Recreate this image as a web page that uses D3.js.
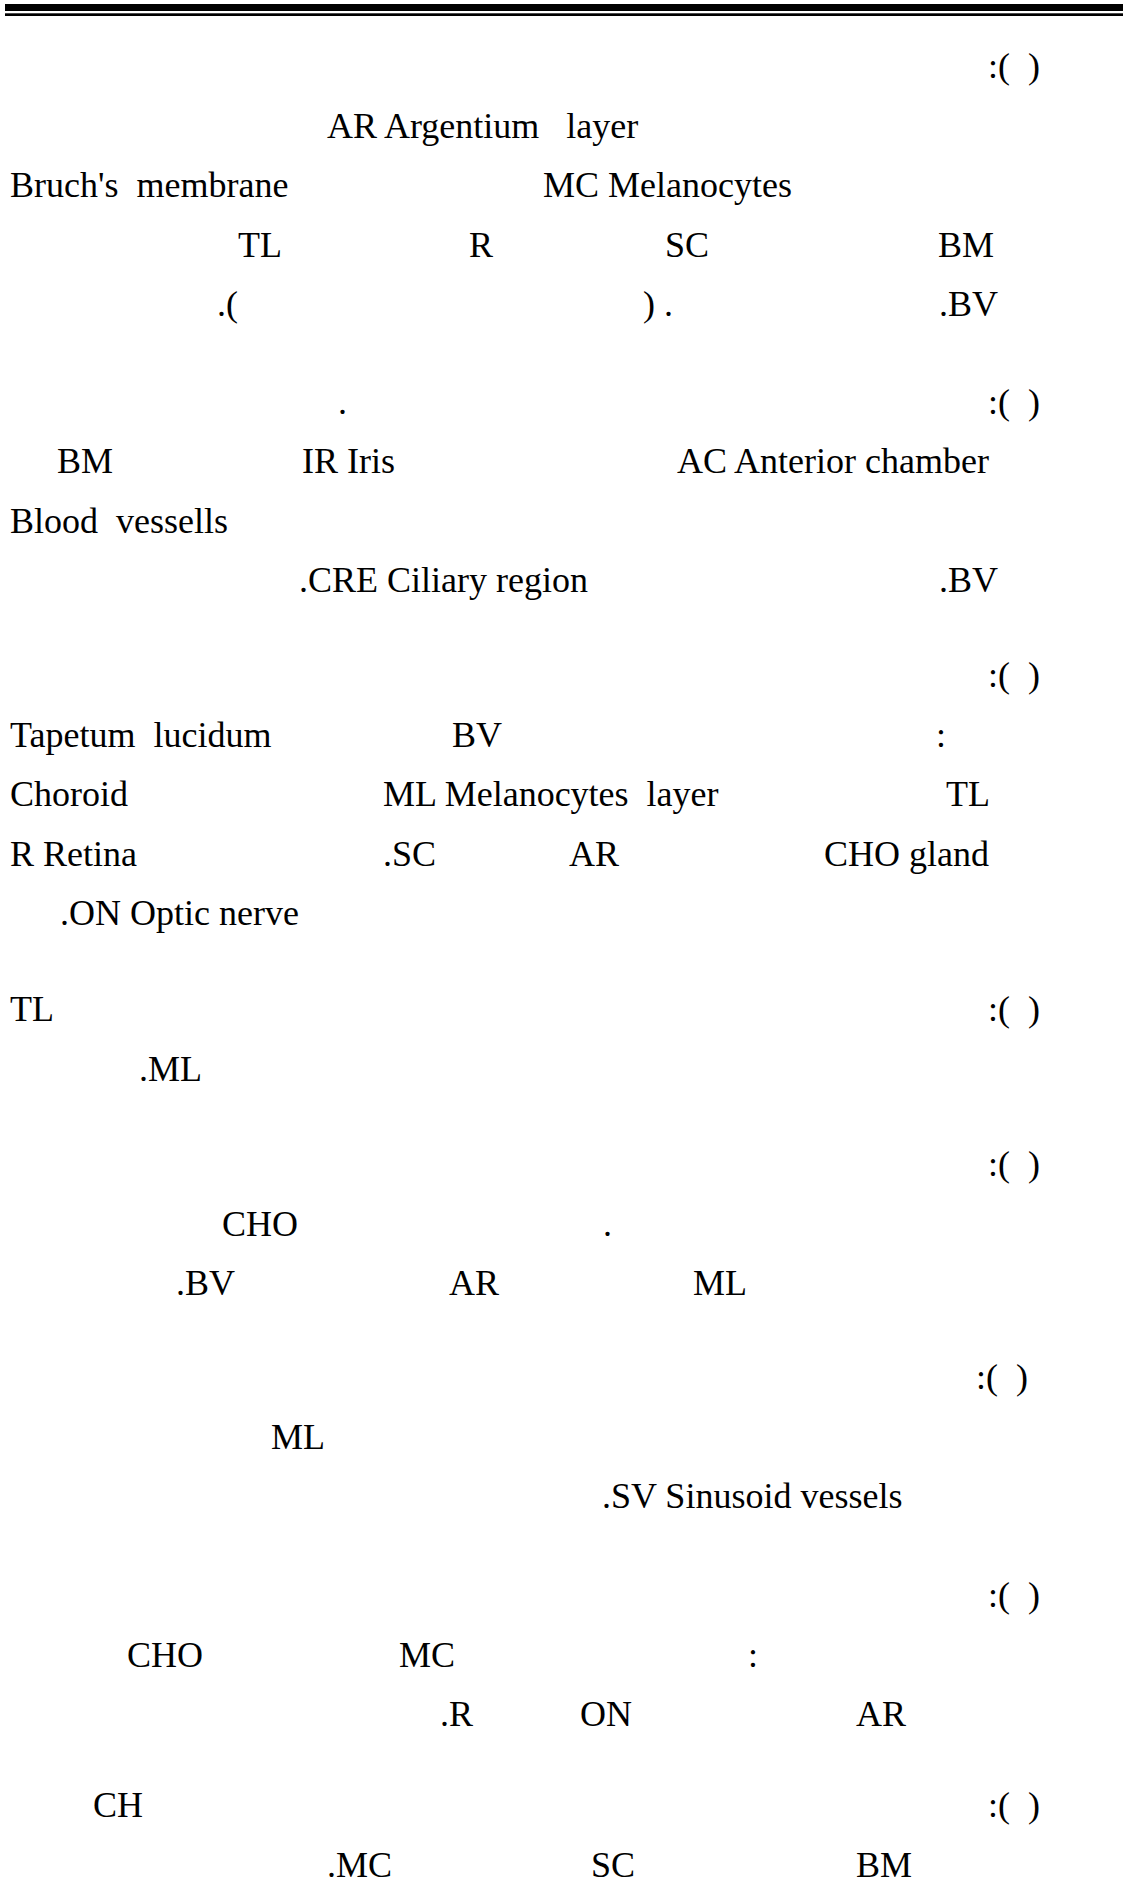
<!DOCTYPE html>
<html>
<head>
<meta charset="utf-8">
<script src="https://cdn.jsdelivr.net/npm/d3@7"></script>
<style>
  html, body { margin: 0; padding: 0; background: #fff; }
  svg { display: block; }
  text { font-family: "Liberation Serif", "Times New Roman", serif; font-size: 36px; fill: #000; white-space: pre; }
</style>
</head>
<body>
<script>
// Text content of each paragraph: lines of [fragment text, column key]
const para1 = [
  [[":(  )", "c0"]],
  [["AR Argentium   layer", "a1"]],
  [["Bruch's  membrane", "m"], ["MC Melanocytes", "a2"]],
  [["TL", "a3"], ["R", "a4"], ["SC", "a5"], ["BM", "a6"]],
  [[".(", "a7"], [") .", "a8"], [".BV", "a9"]]
];
const para2 = [
  [[":(  )", "c0"], [".", "b0"]],
  [["BM", "b1"], ["IR Iris", "b2"], ["AC Anterior chamber", "b3"]],
  [["Blood  vessells", "m"]],
  [[".CRE Ciliary region", "b4"], [".BV", "a9"]]
];
const para3 = [
  [[":(  )", "c0"]],
  [["Tapetum  lucidum", "m"], ["BV", "d1"], [":", "d2"]],
  [["Choroid", "m"], ["ML Melanocytes  layer", "d3"], ["TL", "d4"]],
  [["R Retina", "m"], [".SC", "d5"], ["AR", "d6"], ["CHO gland", "d7"]],
  [[".ON Optic nerve", "d8"]]
];
const para4 = [
  [["TL", "m"], [":(  )", "c0"]],
  [[".ML", "e1"]]
];
const para5 = [
  [[":(  )", "c0"]],
  [["CHO", "f1"], [".", "f2"]],
  [[".BV", "f3"], ["AR", "f4"], ["ML", "f5"]]
];
const para6 = [
  [[":(  )", "c1"]],
  [["ML", "g1"]],
  [[".SV Sinusoid vessels", "g2"]]
];
const para7 = [
  [[":(  )", "c0"]],
  [["CHO", "h1"], ["MC", "h2"], [":", "h3"]],
  [[".R", "h4"], ["ON", "h5"], ["AR", "h6"]]
];
const para8 = [
  [["CH", "k1"], [":(  )", "c0"]],
  [[".MC", "k2"], ["SC", "k3"], ["BM", "k4"]]
];
const paragraphs = [para1, para2, para3, para4, para5, para6, para7, para8];

// Layout (page geometry), kept apart from the content
const columnX = {
  m: 10, c0: 988, c1: 976,
  a1: 327, a2: 543, a3: 238, a4: 469, a5: 665, a6: 938, a7: 217, a8: 643, a9: 939,
  b0: 338, b1: 57, b2: 302, b3: 677, b4: 299,
  d1: 452, d2: 936, d3: 383, d4: 946, d5: 383, d6: 569, d7: 824, d8: 60,
  e1: 139, f1: 222, f2: 603, f3: 176, f4: 449, f5: 693,
  g1: 271, g2: 602,
  h1: 127, h2: 399, h3: 748, h4: 440, h5: 580, h6: 856,
  k1: 93, k2: 327, k3: 591, k4: 856
};
const paraStart = [78, 413.5, 687, 1021, 1176, 1389, 1607, 1817];
const lineStep = 59.5;

const W = 1128, H = 1899;
const svg = d3.select("body").append("svg").attr("width", W).attr("height", H);
svg.append("rect").attr("width", W).attr("height", H).attr("fill", "#fff");

// Double rule at top of page
const rules = [{y: 4, h: 7}, {y: 13.3, h: 2.7}];
svg.selectAll("rect.rule").data(rules).join("rect")
  .attr("class", "rule")
  .attr("x", 5).attr("width", 1118)
  .attr("y", d => d.y).attr("height", d => d.h)
  .attr("fill", "#000");

const x = d3.scaleLinear().domain([0, W]).range([0, W]);

const frags = [];
paragraphs.forEach((p, pi) => {
  const y = d3.scaleLinear().domain([0, 1]).range([paraStart[pi], paraStart[pi] + lineStep]);
  p.forEach((line, li) => {
    line.forEach(([t, key]) => {
      frags.push({t, x: x(columnX[key]), y: y(li)});
    });
  });
});

svg.selectAll("text.frag").data(frags).join("text")
  .attr("class", "frag")
  .attr("x", d => d.x)
  .attr("y", d => d.y)
  .text(d => d.t);
</script>
</body>
</html>
